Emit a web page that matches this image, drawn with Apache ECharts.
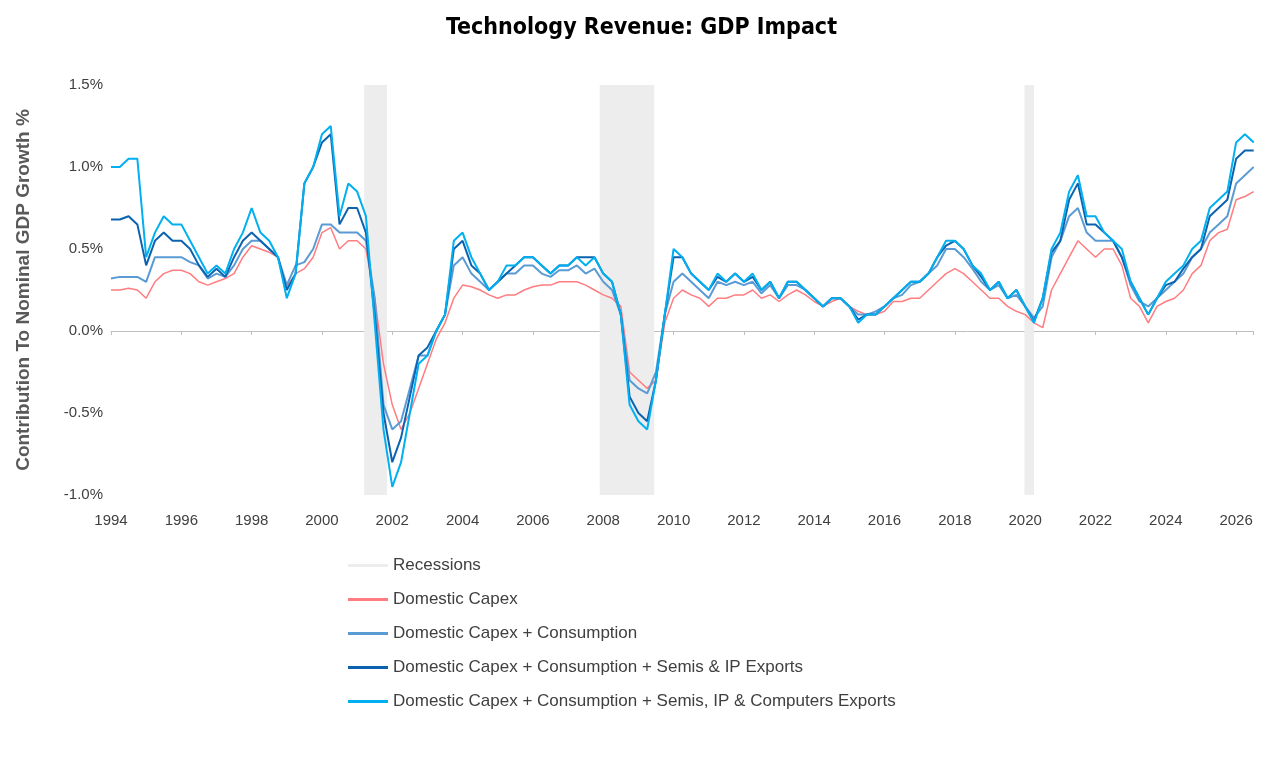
<!DOCTYPE html>
<html>
<head>
<meta charset="utf-8">
<title>Technology Revenue: GDP Impact</title>
<script src="https://cdn.jsdelivr.net/npm/echarts@6/dist/echarts.min.js"></script>
</head>
<body style="margin:0">
<div id="main" style="width:1283px;height:757px"></div>
<script>
// quarterly readings, first point = 1994 Q1
var startYear = 1994;
var capex = [0.25,0.25,0.26,0.25, 0.2,0.3,0.35,0.37, 0.37,0.35,0.3,0.28, 0.3,0.32,0.35,0.45, 0.52,0.5,0.48,0.45,
  0.27,0.35,0.38,0.45, 0.6,0.63,0.5,0.55, 0.55,0.5,0.2,-0.2, -0.45,-0.6,-0.5,-0.35, -0.2,-0.05,0.05,0.2,
  0.28,0.27,0.25,0.22, 0.2,0.22,0.22,0.25, 0.27,0.28,0.28,0.3, 0.3,0.3,0.28,0.25, 0.22,0.2,0.15,-0.25,
  -0.3,-0.35,-0.3,0.05, 0.2,0.25,0.22,0.2, 0.15,0.2,0.2,0.22, 0.22,0.25,0.2,0.22, 0.18,0.22,0.25,0.22,
  0.18,0.15,0.18,0.2, 0.15,0.12,0.1,0.1, 0.12,0.18,0.18,0.2, 0.2,0.25,0.3,0.35, 0.38,0.35,0.3,0.25,
  0.2,0.2,0.15,0.12, 0.1,0.05,0.02,0.25, 0.35,0.45,0.55,0.5, 0.45,0.5,0.5,0.4, 0.2,0.15,0.05,0.15,
  0.18,0.2,0.25,0.35, 0.4,0.55,0.6,0.62, 0.8,0.82,0.85];
var capexCons = [0.32,0.33,0.33,0.33, 0.3,0.45,0.45,0.45, 0.45,0.42,0.4,0.32, 0.35,0.33,0.4,0.5, 0.55,0.55,0.5,0.45,
  0.28,0.4,0.42,0.5, 0.65,0.65,0.6,0.6, 0.6,0.55,0.2,-0.45, -0.6,-0.55,-0.35,-0.15, -0.15,0.0,0.1,0.4,
  0.45,0.35,0.3,0.25, 0.3,0.35,0.35,0.4, 0.4,0.35,0.33,0.37, 0.37,0.4,0.35,0.38, 0.3,0.25,0.1,-0.3,
  -0.35,-0.38,-0.25,0.1, 0.3,0.35,0.3,0.25, 0.2,0.3,0.28,0.3, 0.28,0.3,0.23,0.28, 0.2,0.28,0.28,0.25,
  0.2,0.15,0.2,0.2, 0.15,0.1,0.1,0.12, 0.15,0.2,0.22,0.28, 0.3,0.35,0.4,0.5, 0.5,0.45,0.38,0.3,
  0.25,0.28,0.2,0.22, 0.15,0.08,0.15,0.45, 0.55,0.7,0.75,0.6, 0.55,0.55,0.55,0.45, 0.28,0.18,0.15,0.2,
  0.25,0.3,0.35,0.45, 0.5,0.6,0.65,0.7, 0.9,0.95,1.0];
var semisIp = [0.68,0.68,0.7,0.65, 0.4,0.55,0.6,0.55, 0.55,0.5,0.4,0.33, 0.38,0.33,0.45,0.55, 0.6,0.55,0.5,0.45,
  0.25,0.35,0.9,1.0, 1.15,1.2,0.65,0.75, 0.75,0.6,0.1,-0.5, -0.8,-0.65,-0.4,-0.15, -0.1,0.0,0.1,0.5,
  0.55,0.4,0.35,0.25, 0.3,0.35,0.4,0.45, 0.45,0.4,0.35,0.4, 0.4,0.45,0.45,0.45, 0.35,0.3,0.1,-0.4,
  -0.5,-0.55,-0.3,0.1, 0.45,0.45,0.35,0.3, 0.25,0.33,0.3,0.35, 0.3,0.33,0.25,0.3, 0.2,0.3,0.3,0.25,
  0.2,0.15,0.2,0.2, 0.15,0.07,0.1,0.1, 0.15,0.2,0.25,0.3, 0.3,0.35,0.45,0.52, 0.55,0.5,0.4,0.33,
  0.25,0.3,0.2,0.25, 0.15,0.06,0.2,0.48, 0.55,0.8,0.9,0.65, 0.65,0.6,0.55,0.45, 0.3,0.2,0.1,0.2,
  0.28,0.3,0.38,0.45, 0.5,0.7,0.75,0.8, 1.05,1.1,1.1];
var semisIpComp = [1.0,1.0,1.05,1.05, 0.45,0.6,0.7,0.65, 0.65,0.55,0.45,0.35, 0.4,0.35,0.5,0.6, 0.75,0.6,0.55,0.45,
  0.2,0.35,0.9,1.0, 1.2,1.25,0.7,0.9, 0.85,0.7,0.05,-0.6, -0.95,-0.8,-0.5,-0.2, -0.15,0.0,0.1,0.55,
  0.6,0.45,0.35,0.25, 0.3,0.4,0.4,0.45, 0.45,0.4,0.35,0.4, 0.4,0.45,0.4,0.45, 0.35,0.3,0.1,-0.45,
  -0.55,-0.6,-0.3,0.1, 0.5,0.45,0.35,0.3, 0.25,0.35,0.3,0.35, 0.3,0.35,0.25,0.3, 0.2,0.3,0.3,0.25,
  0.2,0.15,0.2,0.2, 0.15,0.05,0.1,0.1, 0.15,0.2,0.25,0.3, 0.3,0.35,0.45,0.55, 0.55,0.5,0.4,0.35,
  0.25,0.3,0.2,0.25, 0.15,0.05,0.2,0.5, 0.6,0.85,0.95,0.7, 0.7,0.6,0.55,0.5, 0.3,0.2,0.1,0.2,
  0.3,0.35,0.4,0.5, 0.55,0.75,0.8,0.85, 1.15,1.2,1.15];
var recessions = [[2001.2, 2001.85], [2007.9, 2009.45], [2019.98, 2020.25]];
var seriesNames = ['Domestic Capex', 'Domestic Capex + Consumption',
  'Domestic Capex + Consumption + Semis & IP Exports',
  'Domestic Capex + Consumption + Semis, IP & Computers Exports'];
var colors = ['#FF7C80', '#5B9BD5', '#0B63B0', '#00B0F0'];

function pairs(vals) {
  return vals.map(function (v, i) { return [startYear + i * 0.25, v]; });
}

var chart = echarts.init(document.getElementById('main'));
var series = [{
  name: 'Recessions', type: 'line', data: [], symbol: 'none',
  itemStyle: { color: '#EDEDED' },
  markArea: {
    silent: true,
    itemStyle: { color: '#EDEDED' },
    data: recessions.map(function (r) { return [{ xAxis: r[0], yAxis: 1.5 }, { xAxis: r[1], yAxis: -1.0 }]; })
  }
}];
[capex, capexCons, semisIp, semisIpComp].forEach(function (vals, k) {
  series.push({
    name: seriesNames[k], type: 'line', data: pairs(vals), symbol: 'none',
    lineStyle: { width: k === 0 ? 1.5 : 2, color: colors[k] }, itemStyle: { color: colors[k] }
  });
});

chart.setOption({
  animation: false,
  title: {
    text: 'Technology Revenue: GDP Impact', left: 'center', top: 12,
    textStyle: { fontFamily: 'DejaVu Sans Condensed', fontWeight: 'bold', fontSize: 23, color: '#000' }
  },
  grid: { left: 111, right: 30, top: 85, bottom: 262 },
  legend: {
    orient: 'vertical', left: 343, top: 552, itemGap: 17, itemWidth: 40, itemHeight: 3,
    icon: 'rect', textStyle: { fontSize: 17, color: '#404040', fontFamily: 'Liberation Sans' },
    data: [{ name: 'Recessions', itemStyle: { color: '#EDEDED' } }].concat(seriesNames.map(function (n) { return { name: n }; }))
  },
  xAxis: [{
    type: 'value', min: 1994, max: 2026.48, interval: 2,
    axisLine: { show: false, onZero: false }, axisTick: { show: false }, splitLine: { show: false },
    axisLabel: { fontSize: 15, color: '#404040', margin: 18, formatter: function (v) { return v % 2 === 0 ? String(v) : ''; } }
  }, {
    type: 'value', min: 1994, max: 2026.48, interval: 2, position: 'bottom',
    axisLine: { show: true, onZero: true, lineStyle: { color: '#BFBFBF' } },
    axisTick: { show: true, length: 4, lineStyle: { color: '#BFBFBF' } },
    axisLabel: { show: false }, splitLine: { show: false }
  }],
  yAxis: {
    type: 'value', min: -1.0, max: 1.5, interval: 0.5,
    name: 'Contribution To Nominal GDP Growth %', nameLocation: 'middle', nameGap: 78,
    nameTextStyle: { fontSize: 19, fontWeight: 'bold', color: '#595959' },
    axisLine: { show: false }, axisTick: { show: false }, splitLine: { show: false },
    axisLabel: { fontSize: 15, color: '#404040', formatter: function (v) { return v.toFixed(1) + '%'; } }
  },
  series: series
});
</script>
</body>
</html>
